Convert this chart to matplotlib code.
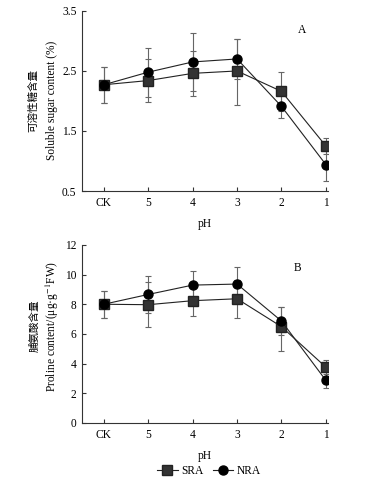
import matplotlib
matplotlib.use("Agg")
import matplotlib.pyplot as plt
from matplotlib.lines import Line2D

plt.rcParams['font.family'] = ['Liberation Serif', 'Noto Sans CJK SC', 'DejaVu Sans']
plt.rcParams['mathtext.fontset'] = 'stix'
plt.rcParams['font.size'] = 8.3

ph_labels = ['CK', '5', '4', '3', '2', '1']

# A: soluble sugar content (%)
sugar_sra = [2.27, 2.34, 2.46, 2.50, 2.16, 1.25]
sugar_nra = [2.27, 2.48, 2.65, 2.70, 1.91, 0.94]
sugar_sra_lo = [0.30, 0.36, 0.38, 0.56, 0.33, 0.14]
sugar_sra_hi = [0.30, 0.36, 0.38, 0.54, 0.33, 0.14]
sugar_nra_lo = [0.30, 0.41, 0.49, 0.34, 0.20, 0.27]
sugar_nra_hi = [0.30, 0.41, 0.49, 0.34, 0.20, 0.27]

# B: proline content (ug/g FW)
pro_sra = [8.00, 7.97, 8.24, 8.37, 6.49, 3.76]
pro_nra = [8.00, 8.66, 9.29, 9.36, 6.87, 2.87]
pro_sra_lo = [0.90, 1.52, 1.01, 1.27, 1.61, 0.47]
pro_sra_hi = [0.87, 1.52, 1.01, 1.27, 1.30, 0.47]
pro_nra_lo = [0.90, 1.24, 0.92, 1.12, 0.92, 0.54]
pro_nra_hi = [0.87, 1.24, 0.92, 1.12, 0.92, 0.54]

W, H = 378, 488
fig = plt.figure(figsize=(W / 100, H / 100), dpi=100)
axA = fig.add_axes([0.217, 0.6086, 0.651, 0.369])
axB = fig.add_axes([0.217, 0.1332, 0.651, 0.365])

x = list(range(len(ph_labels)))


def panel(ax, sra, nra, s_lo, s_hi, n_lo, n_hi):
    ax.errorbar(x, sra, yerr=[s_lo, s_hi], fmt='none', ecolor='#666666',
                elinewidth=0.8, capsize=2.5, capthick=0.8, zorder=1)
    ax.errorbar(x, nra, yerr=[n_lo, n_hi], fmt='none', ecolor='#666666',
                elinewidth=0.8, capsize=2.5, capthick=0.8, zorder=1)
    ax.plot(x, sra, color='#222222', lw=0.8, marker='s', ms=7,
            mfc='#333333', mec='#222222', zorder=3)
    ax.plot(x, nra, color='#222222', lw=0.8, marker='o', ms=6.5,
            mfc='black', mec='black', zorder=3)
    ax.set_xticks(x)
    ax.set_xticklabels(ph_labels)
    ax.set_xlim(-0.49, 5.05)
    ax.spines['top'].set_visible(False)
    ax.spines['right'].set_visible(False)
    for s in ['left', 'bottom']:
        ax.spines[s].set_linewidth(0.8)
        ax.spines[s].set_color('#333333')
    ax.tick_params(direction='in', length=3, width=0.8, colors='#333333',
                   labelcolor='black', pad=4)
    ax.set_xlabel('pH', labelpad=7)


def ylab(cn, en, px_cn, px_en, py):
    fig.text(px_cn / W, 1 - py / H, cn, rotation=90, ha='center', va='center',
             fontsize=7.6)
    fig.text(px_en / W, 1 - py / H, en, rotation=90, ha='center', va='center')


panel(axA, sugar_sra, sugar_nra, sugar_sra_lo, sugar_sra_hi, sugar_nra_lo, sugar_nra_hi)
axA.set_ylim(0.5, 3.5)
axA.set_yticks([0.5, 1.5, 2.5, 3.5])
ylab('可溶性糖含量', 'Soluble sugar content (%)', 33, 51.5, 100)
axA.text(0.894, 0.894, 'A', transform=axA.transAxes, ha='center', va='center')

panel(axB, pro_sra, pro_nra, pro_sra_lo, pro_sra_hi, pro_nra_lo, pro_nra_hi)
axB.set_ylim(0, 12)
axB.set_yticks([0, 2, 4, 6, 8, 10, 12])
ylab('脯氨酸含量', 'Proline content/(μg·g$^{-1}$FW)', 35, 52, 326)
axB.text(0.874, 0.87, 'B', transform=axB.transAxes, ha='center', va='center')

handles = [
    Line2D([], [], color='#222222', lw=0.8, marker='s', ms=7, mfc='#333333', mec='#222222'),
    Line2D([], [], color='#222222', lw=0.8, marker='o', ms=6.5, mfc='black', mec='black'),
]
fig.legend(handles, ['SRA', 'NRA'], loc='center', bbox_to_anchor=(0.553, 0.035),
           ncol=2, frameon=False, handlelength=1.8, handletextpad=0.3,
           columnspacing=0.8)

fig.savefig('out.png', dpi=100)
